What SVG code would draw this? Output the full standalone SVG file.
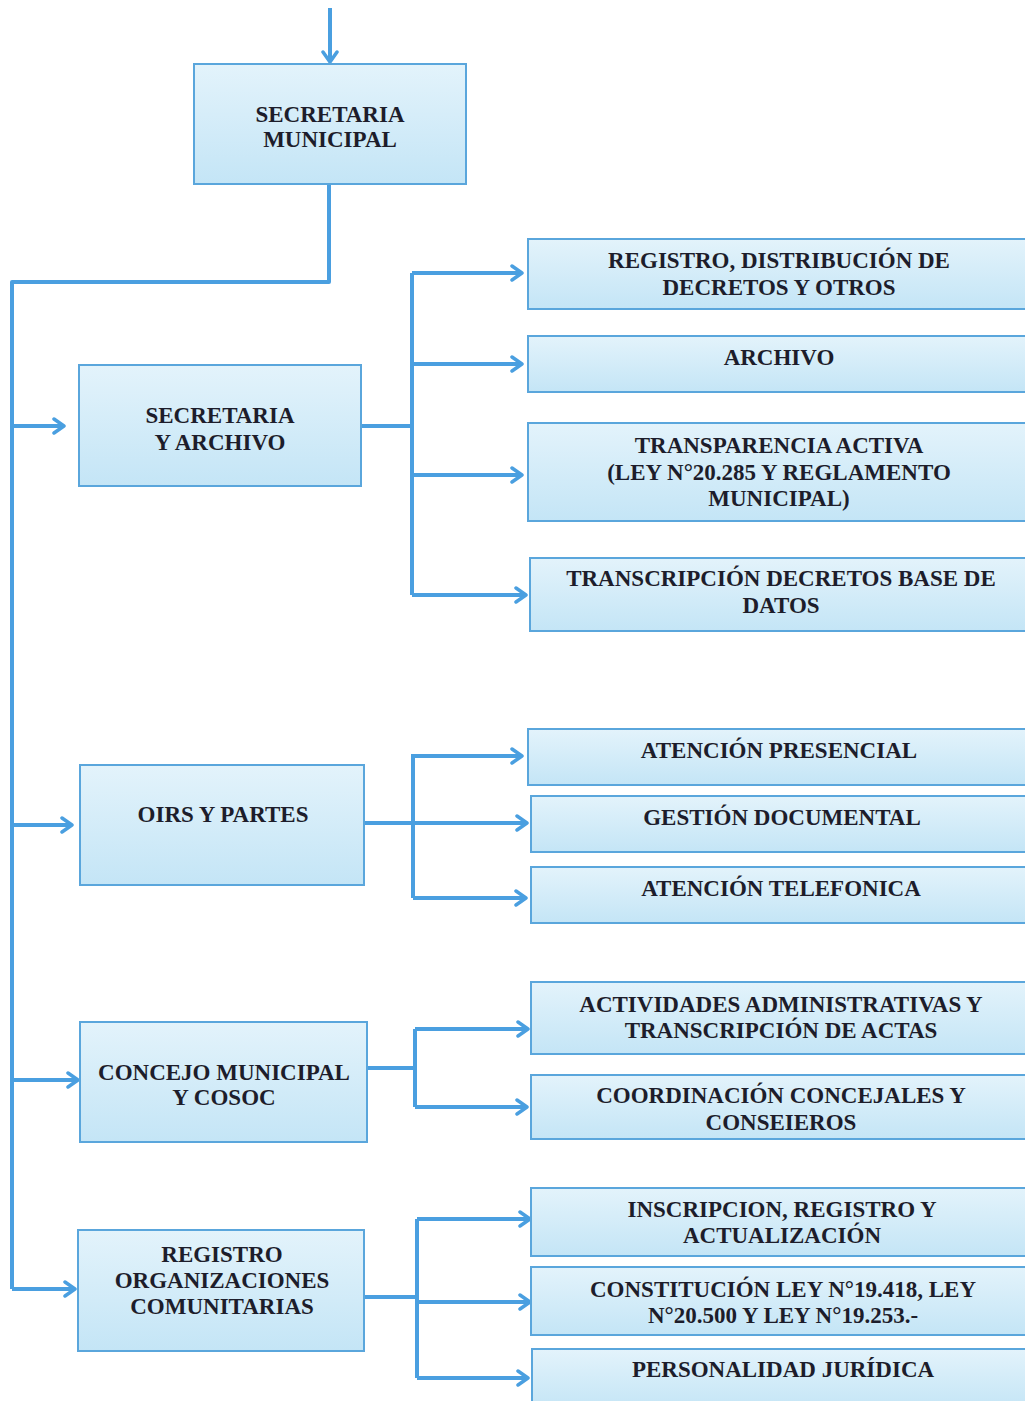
<svg xmlns="http://www.w3.org/2000/svg" width="1025" height="1401" viewBox="0 0 1025 1401">
<defs>
<linearGradient id="g" x1="0" y1="0" x2="0" y2="1">
<stop offset="0" stop-color="#e3f3fb"/>
<stop offset="1" stop-color="#c4e5f6"/>
</linearGradient>
<marker id="a" markerUnits="userSpaceOnUse" markerWidth="16" markerHeight="18" refX="13" refY="9" orient="auto" viewBox="0 0 16 18">
<path d="M3,2 L13,9 L3,16" fill="none" stroke="#4a9fe0" stroke-width="3.5" stroke-linecap="round" stroke-linejoin="round"/>
</marker>
</defs>
<style>
.box{fill:url(#g);stroke:#5aa6dc;stroke-width:2}
.t{font-family:"Liberation Serif","Times New Roman",serif;font-weight:bold;font-size:23px;fill:#1d1d2b;text-anchor:middle}
.c{fill:none;stroke:#4a9fe0;stroke-width:4;stroke-linejoin:round}
.ar{marker-end:url(#a)}
</style>
<rect width="1025" height="1401" fill="#ffffff"/>
<g id="connectors">
<path class="c ar" d="M330,8 V62"/>
<path class="c" d="M329,184 V282 H12 V1289"/>
<path class="c ar" d="M12,1289 H75"/>
<path class="c ar" d="M12,426 H64"/>
<path class="c ar" d="M12,825 H72"/>
<path class="c ar" d="M12,1080 H78"/>
<path class="c" d="M361,426 H412 M412,273 V595"/>
<path class="c ar" d="M412,273 H522"/>
<path class="c ar" d="M412,364 H522"/>
<path class="c ar" d="M412,475 H522"/>
<path class="c ar" d="M412,595 H526"/>
<path class="c" d="M364,823 H413 M413,754 V898"/>
<path class="c ar" d="M413,756 H522"/>
<path class="c ar" d="M413,823 H527"/>
<path class="c ar" d="M413,898 H526"/>
<path class="c" d="M367,1068 H415 M415,1029 V1107"/>
<path class="c ar" d="M415,1029 H528"/>
<path class="c ar" d="M415,1107 H527"/>
<path class="c" d="M364,1297 H417 M417,1219 V1378"/>
<path class="c ar" d="M417,1219 H530"/>
<path class="c ar" d="M417,1302 H530"/>
<path class="c ar" d="M417,1378 H528"/>
</g>
<g id="n-secretaria-municipal">
<rect class="box" x="194" y="64" width="272" height="120"/>
<text class="t" x="330" y="122">SECRETARIA</text>
<text class="t" x="330" y="147">MUNICIPAL</text>
</g>
<g id="n-secretaria-archivo">
<rect class="box" x="79" y="365" width="282" height="121"/>
<text class="t" x="220" y="423">SECRETARIA</text>
<text class="t" x="220" y="450">Y ARCHIVO</text>
</g>
<g id="n-registro-distribucion">
<rect class="box" x="528" y="239" width="500" height="70"/>
<text class="t" x="779" y="268">REGISTRO, DISTRIBUCIÓN DE</text>
<text class="t" x="779" y="295">DECRETOS Y OTROS</text>
</g>
<g id="n-archivo">
<rect class="box" x="528" y="336" width="500" height="56"/>
<text class="t" x="779" y="365">ARCHIVO</text>
</g>
<g id="n-transparencia">
<rect class="box" x="528" y="423" width="500" height="98"/>
<text class="t" x="779" y="453">TRANSPARENCIA ACTIVA</text>
<text class="t" x="779" y="480">(LEY N°20.285 Y REGLAMENTO</text>
<text class="t" x="779" y="506">MUNICIPAL)</text>
</g>
<g id="n-transcripcion">
<rect class="box" x="530" y="558" width="498" height="73"/>
<text class="t" x="781" y="586">TRANSCRIPCIÓN DECRETOS BASE DE</text>
<text class="t" x="781" y="613">DATOS</text>
</g>
<g id="n-oirs">
<rect class="box" x="80" y="765" width="284" height="120"/>
<text class="t" x="223" y="822">OIRS Y PARTES</text>
</g>
<g id="n-atencion-presencial">
<rect class="box" x="528" y="729" width="500" height="56"/>
<text class="t" x="779" y="758">ATENCIÓN PRESENCIAL</text>
</g>
<g id="n-gestion-documental">
<rect class="box" x="531" y="796" width="497" height="56"/>
<text class="t" x="782" y="825">GESTIÓN DOCUMENTAL</text>
</g>
<g id="n-atencion-telefonica">
<rect class="box" x="531" y="867" width="497" height="56"/>
<text class="t" x="781" y="896">ATENCIÓN TELEFONICA</text>
</g>
<g id="n-concejo">
<rect class="box" x="80" y="1022" width="287" height="120"/>
<text class="t" x="224" y="1080">CONCEJO MUNICIPAL</text>
<text class="t" x="224" y="1105">Y COSOC</text>
</g>
<g id="n-actividades">
<rect class="box" x="531" y="982" width="497" height="72"/>
<text class="t" x="781" y="1012">ACTIVIDADES ADMINISTRATIVAS Y</text>
<text class="t" x="781" y="1038">TRANSCRIPCIÓN DE ACTAS</text>
</g>
<g id="n-coordinacion">
<rect class="box" x="531" y="1075" width="497" height="64"/>
<text class="t" x="781" y="1103">COORDINACIÓN CONCEJALES Y</text>
<text class="t" x="781" y="1130">CONSEIEROS</text>
</g>
<g id="n-registro-org">
<rect class="box" x="78" y="1230" width="286" height="121"/>
<text class="t" x="222" y="1262">REGISTRO</text>
<text class="t" x="222" y="1288">ORGANIZACIONES</text>
<text class="t" x="222" y="1314">COMUNITARIAS</text>
</g>
<g id="n-inscripcion">
<rect class="box" x="531" y="1188" width="497" height="68"/>
<text class="t" x="782" y="1217">INSCRIPCION, REGISTRO Y</text>
<text class="t" x="782" y="1243">ACTUALIZACIÓN</text>
</g>
<g id="n-constitucion">
<rect class="box" x="531" y="1267" width="497" height="68"/>
<text class="t" x="783" y="1297">CONSTITUCIÓN LEY N°19.418, LEY</text>
<text class="t" x="783" y="1323">N°20.500 Y LEY N°19.253.-</text>
</g>
<g id="n-personalidad">
<rect class="box" x="532" y="1349" width="496" height="60"/>
<text class="t" x="783" y="1377">PERSONALIDAD JURÍDICA</text>
</g>
</svg>
